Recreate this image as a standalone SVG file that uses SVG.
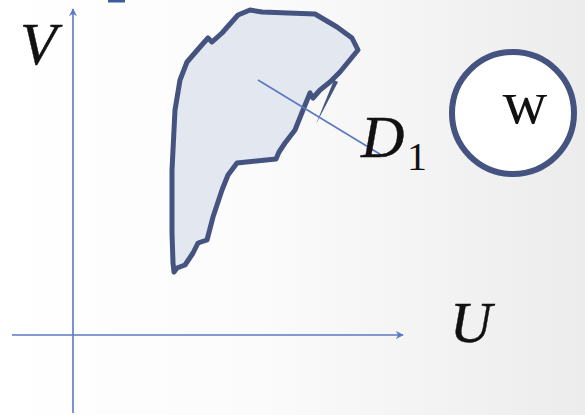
<svg xmlns="http://www.w3.org/2000/svg" width="585" height="415" viewBox="0 0 585 415">
<defs>
<linearGradient id="bg" x1="0" y1="0" x2="1" y2="0">
<stop offset="0" stop-color="#ffffff"/>
<stop offset="0.45" stop-color="#fbfbfb"/>
<stop offset="1" stop-color="#ececec"/>
</linearGradient>
<marker id="arr" viewBox="0 0 10 10" refX="9" refY="5" markerWidth="8" markerHeight="8" markerUnits="userSpaceOnUse" orient="auto">
<path d="M0,0 L10,5 L0,10 L3,5 Z" fill="#5b79c2"/>
</marker>
<style>
.axis{stroke:#5b79c2;stroke-width:1.6;fill:none}
.lbl{font-family:"Liberation Serif",serif;font-style:italic;fill:#111;stroke:#111;stroke-width:0.4}
.blob{fill:#e3e7ef;stroke:#44537f;stroke-width:5;stroke-linejoin:round}
</style>
</defs>
<rect width="585" height="415" fill="url(#bg)"/>
<rect x="108" y="0" width="17" height="2.5" fill="#3b5b9b"/>
<g id="axes">
<line class="axis" x1="73" y1="413" x2="73" y2="9" marker-end="url(#arr)"/>
<line class="axis" x1="12" y1="335" x2="403" y2="335" marker-end="url(#arr)"/>
</g>
<g id="region-D1">
<path class="blob" d="M250,10 L262,12 L315,14 L337,27 L352,38 L358,50 L340,72 L330,82 L320,90 L313,98 L310,93 L303,110 L295,130 L285,143 L279,152 L276,159 L237,163 L228,175 L222,190 L213,217 L207,240 L198,243 L193,253 L185,265 L177,268 L174,272 L173,263 L172,233 L172,183 L172,170 L175,110 L180,80 L187,62 L200,47 L208,38 L212,42 L222,33 L238,15 Z"/>
<path d="M334,80 L338,82 L316,124 Z" fill="#44537f"/>
</g>
<g id="connectors">
<line x1="258" y1="80" x2="383" y2="156" stroke="#5b79c2" stroke-width="1.6"/>
</g>
<g id="label-V"><text class="lbl" x="20" y="64" font-size="60">V</text></g>
<g id="label-U"><text class="lbl" x="450" y="342" font-size="58">U</text></g>
<g id="label-D1"><text class="lbl" x="361" y="157" font-size="60">D</text><text x="407" y="170" font-size="40" font-family="Liberation Serif,serif" fill="#111">1</text></g>
<g id="node-w">
<circle cx="513" cy="113" r="61" fill="#ffffff" stroke="#44537f" stroke-width="6"/>
<text x="525" y="123" font-size="62" text-anchor="middle" font-family="Liberation Serif,serif" fill="#111">w</text>
</g>
</svg>
